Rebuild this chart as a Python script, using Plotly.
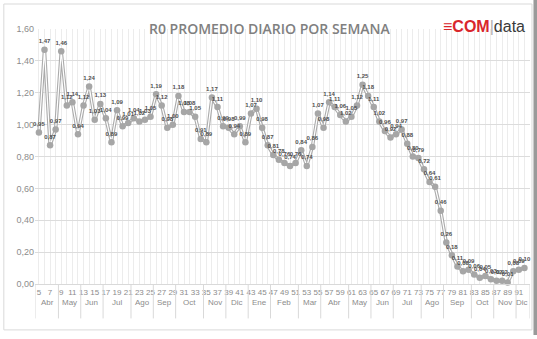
import plotly.graph_objects as go

# ---- data ----
weeks = list(range(5, 93))
r0 = [0.95, 1.47, 0.87, 0.97, 1.46, 1.12, 1.14, 0.94, 1.12, 1.24,
      1.03, 1.13, 1.04, 0.89, 1.09, 0.99, 1.01, 1.04, 1.02, 1.03,
      1.05, 1.19, 1.12, 0.98, 1.00, 1.18, 1.08, 1.08, 1.05, 0.91,
      0.89, 1.17, 1.11, 0.99, 0.98, 0.94, 0.99, 0.89, 1.07, 1.10,
      0.98, 0.87, 0.81, 0.78, 0.76, 0.74, 0.76, 0.84, 0.74, 0.86,
      1.07, 0.98, 1.14, 1.11, 1.06, 1.02, 1.05, 1.12, 1.25, 1.18,
      1.11, 1.02, 0.96, 0.92, 0.94, 0.97, 0.88, 0.80, 0.79, 0.72,
      0.64, 0.61, 0.46, 0.26, 0.18, 0.11, 0.08, 0.09, 0.06, 0.04,
      0.05, 0.03, 0.02, 0.02, 0.01, 0.08, 0.09, 0.10]
month_names = ["Abr", "May", "Jun", "Jul", "Ago", "Sep", "Oct", "Nov", "Dic",
               "Ene", "Feb", "Mar", "Abr", "May", "Jun", "Jul", "Ago", "Sep",
               "Oct", "Nov", "Dic"]
month_weeks = [4, 4, 4, 5, 4, 4, 5, 4, 4, 4, 5, 4, 5, 4, 4, 5, 4, 5, 4, 4, 2]
week_ticktext = [str(w) if w % 2 == 1 else "" for w in weeks]
title_text = "R0 PROMEDIO DIARIO POR SEMANA"

labels = [f"{v:.2f}".replace(".", ",") for v in r0]

GREY = "#ababab"
XR = [4.3, 93.0]

fig = go.Figure()
# outer line (double-line effect)
fig.add_trace(go.Scatter(x=weeks, y=r0, mode="lines",
                         line=dict(color=GREY, width=3.4), hoverinfo="skip",
                         showlegend=False))
fig.add_trace(go.Scatter(x=weeks, y=r0, mode="lines+markers+text",
                         line=dict(color="white", width=1.2),
                         marker=dict(color="#a6a6a6", size=6.5),
                         text=labels, textposition="top center",
                         textfont=dict(size=6, color="#505050",
                                       family="Liberation Sans", weight="bold"),
                         showlegend=False, cliponaxis=False))

# month labels and separators computed from groups
annotations = []
shapes = []
start = weeks[0]
bounds = [XR[0]]
for name, n in zip(month_names, month_weeks):
    first, last = start, start + n - 1
    annotations.append(dict(x=(first + last) / 2, y=-0.098, xref="x", yref="paper",
                            text=name, showarrow=False,
                            font=dict(size=8, color="#8c8c8c", family="Liberation Sans")))
    bounds.append(last + 0.5)
    start = last + 1
bounds[-1] = XR[1]
for b in bounds:
    shapes.append(dict(type="line", xref="x", yref="paper", x0=b, x1=b,
                       y0=0, y1=-0.135, line=dict(color="#d9d9d9", width=1)))

# frame
shapes.append(dict(type="rect", xref="paper", yref="paper",
                   x0=-0.063, x1=1.004, y0=-0.18, y1=1.098,
                   line=dict(color="#d9d9d9", width=1), layer="below"))
shapes.append(dict(type="rect", xref="paper", yref="paper",
                   x0=1.007, x1=1.016, y0=-0.2, y1=1.12,
                   line=dict(width=0), fillcolor="#9a9a9a", layer="below"))

annotations.append(dict(x=0.475, y=1.047, xref="paper", yref="paper",
                        text=title_text, showarrow=False,
                        font=dict(size=14, color="#808080", family="Open Sans",
                                  weight=600)))
annotations.append(dict(x=0.994, y=1.05, xref="paper", yref="paper", xanchor="right",
                        text="<span style='color:#d9262c'><b>≡COM</b></span>"
                             "<span style='color:#b0b0b0'>|</span>"
                             "<span style='color:#3a3a3a'>data</span>",
                        showarrow=False,
                        font=dict(size=16, family="Liberation Sans Narrow, Liberation Sans")))

fig.update_layout(
    width=537, height=339,
    margin=dict(l=35, r=7, t=29, b=55),
    paper_bgcolor="white", plot_bgcolor="white",
    separators=",.",
    annotations=annotations, shapes=shapes,
    xaxis=dict(range=XR, tickmode="array", tickvals=weeks, ticktext=week_ticktext,
               showgrid=True, gridcolor="#ececec", gridwidth=1,
               zeroline=False, showline=True, linecolor="#d9d9d9",
               tickfont=dict(size=8, color="#8c8c8c", family="Liberation Sans"),
               ticks="", tickangle=0),
    yaxis=dict(range=[0, 1.6], dtick=0.2, tickformat=".2f",
               showgrid=True, gridcolor="#dcdcdc", zeroline=False,
               tickfont=dict(size=9, color="#8c8c8c", family="Liberation Sans"),
               ticks="", showline=False),
)

fig.write_html("out.html")
